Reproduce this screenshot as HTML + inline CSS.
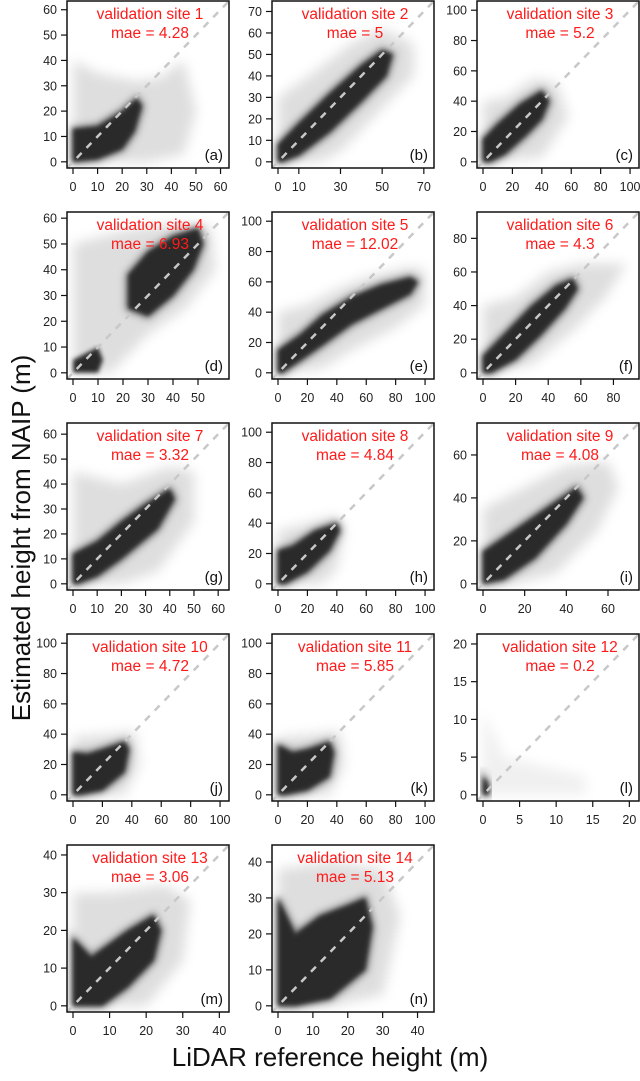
<!DOCTYPE html>
<html><head><meta charset="utf-8"><style>
html,body{margin:0;padding:0;background:#fff;}
svg text{font-family:"Liberation Sans",sans-serif;}
</style></head><body>
<svg id="fig" width="640" height="1076" viewBox="0 0 640 1076" xmlns="http://www.w3.org/2000/svg">
<defs>
<filter id="blurHalo" x="-50%" y="-50%" width="200%" height="200%"><feGaussianBlur stdDeviation="6"/></filter>
<filter id="blurMid" x="-50%" y="-50%" width="200%" height="200%"><feGaussianBlur stdDeviation="4"/></filter>
<filter id="blurCore" x="-50%" y="-50%" width="200%" height="200%"><feGaussianBlur stdDeviation="2.2"/></filter>
</defs>
<text transform="translate(30,538) rotate(-90)" text-anchor="middle" font-size="26" fill="#111">Estimated height from NAIP (m)</text>
<text x="330" y="1066" text-anchor="middle" font-size="26" fill="#111">LiDAR reference height (m)</text>
</svg>
<script>
const siteNames = ["validation site 1","validation site 2","validation site 3","validation site 4","validation site 5","validation site 6","validation site 7","validation site 8","validation site 9","validation site 10","validation site 11","validation site 12","validation site 13","validation site 14"];
const maeValues = ["4.28","5","5.2","6.93","12.02","4.3","3.32","4.84","4.08","4.72","5.85","0.2","3.06","5.13"];
const panelLetters = ["(a)","(b)","(c)","(d)","(e)","(f)","(g)","(h)","(i)","(j)","(k)","(l)","(m)","(n)"];
const axisRanges = [61,72,102,60,102,92,62,102,72,102,102,20.5,41,43];
const xTicks = [[0,10,20,30,40,50,60],[0,10,30,50,70],[0,20,40,60,80,100],[0,10,20,30,40,50],[0,20,40,60,80,100],[0,20,40,60,80],[0,10,20,30,40,50,60],[0,20,40,60,80,100],[0,20,40,60],[0,20,40,60,80,100],[0,20,40,60,80,100],[0,5,10,15,20],[0,10,20,30,40],[0,10,20,30,40]];
const yTicks = [[0,10,20,30,40,50,60],[0,10,20,30,40,50,60,70],[0,20,40,60,80,100],[0,10,20,30,40,50,60],[0,20,40,60,80,100],[0,20,40,60,80],[0,10,20,30,40,50,60],[0,20,40,60,80,100],[0,20,40,60],[0,20,40,60,80,100],[0,20,40,60,80,100],[0,5,10,15,20],[0,10,20,30,40],[0,10,20,30,40]];
const haloShapes = [
[[0,40],[10,35],[25,32],[35,33],[45,40],[50,20],[45,3],[30,0],[0,0]],
[[0,30],[15,40],[35,55],[50,62],[65,55],[65,40],[50,25],[30,5],[20,0],[0,0]],
[[0,40],[15,42],[35,55],[50,52],[58,30],[40,3],[0,0]],
[[0,50],[20,55],[40,58],[55,57],[57,40],[45,25],[30,15],[15,0],[0,0]],
[[0,40],[20,45],[40,55],[60,63],[90,70],[100,68],[100,45],[80,30],[50,15],[30,3],[0,0]],
[[0,40],[20,45],[40,60],[60,65],[88,65],[75,45],[55,25],[30,5],[0,0]],
[[0,45],[20,40],[40,47],[50,45],[50,25],[35,5],[20,0],[0,0]],
[[0,35],[20,40],[40,45],[45,35],[40,10],[30,0],[0,0]],
[[0,35],[20,45],[40,55],[60,57],[65,45],[55,25],[35,5],[15,0],[0,0]],
[[0,38],[25,40],[42,42],[45,20],[35,0],[0,0]],
[[0,38],[25,40],[42,42],[45,20],[35,0],[0,0]],
[[0,11],[3,5],[14,2.5],[14,0],[0,0]],
[[0,30],[10,30],[25,32],[32,28],[30,12],[20,0],[0,0]],
[[0,38],[15,40],[30,38],[35,25],[30,3],[15,0],[0,0]]];
const coreShapes = [
[[0,0],[0,13],[10,14],[20,20],[26,25],[28,22],[25,12],[20,5],[10,1]],
[[0,0],[0,8],[10,18],[25,32],[40,45],[50,52],[55,50],[52,40],[40,28],[25,14],[10,3],[2,0]],
[[0,0],[0,15],[10,25],[25,38],[40,47],[45,40],[40,28],[30,18],[15,5],[5,0]],
[[22,25],[22,38],[30,47],[40,53],[50,56],[52,50],[48,40],[40,30],[30,22]],
[[0,0],[0,15],[15,25],[30,38],[50,50],[70,58],[90,63],[95,60],[90,52],[70,42],[50,32],[30,18],[15,8],[3,0]],
[[0,0],[0,10],[15,25],[30,40],[45,52],[55,56],[58,50],[50,38],[35,22],[20,8],[5,0]],
[[0,0],[0,12],[10,17],[20,25],[30,32],[40,38],[42,34],[35,22],[20,10],[10,3],[2,0]],
[[0,0],[0,22],[10,25],[25,35],[40,40],[42,35],[35,22],[20,8],[5,0]],
[[0,0],[0,15],[15,25],[30,35],[45,45],[48,40],[40,28],[25,12],[10,2]],
[[0,0],[0,28],[10,27],[20,30],[35,35],[38,30],[35,15],[20,3],[5,0]],
[[0,0],[0,33],[10,28],[20,30],[35,35],[38,28],[35,12],[20,3],[5,0]],
[[0,0],[0,2.5],[0.7,1.5],[0.8,0]],
[[0,0],[0,18],[5,13],[15,20],[22,24],[24,20],[22,12],[15,5],[8,0]],
[[0,0],[0,30],[5,20],[12,25],[20,28],[25,30],[27,22],[25,10],[15,2],[5,0]]];
const extraCore = {3:[[0,0],[0,5],[10,10],[12,5],[10,0]]};

const NS="http://www.w3.org/2000/svg";
const svg=document.getElementById('fig');
const colX=[67,272,477], rowY=[1,212,423,634,845], W=162, H=167;
function mk(t,a,p){const e=document.createElementNS(NS,t);for(const k in a)e.setAttribute(k,a[k]);(p||svg).appendChild(e);return e;}

siteNames.forEach((name,i)=>{
  const bx=colX[i%3], by=rowY[Math.floor(i/3)], r=axisRanges[i];
  const lo=-0.04*r, hi=1.04*r;
  const sx=v=>bx+(v-lo)/(hi-lo)*W;
  const sy=v=>by+H-(v-lo)/(hi-lo)*H;
  const g=mk('g',{});
  
  
  const cp=mk('clipPath',{id:'cp'+i},g);
  mk('rect',{x:bx,y:by,width:W,height:H},cp);
  const plot=mk('g',{'clip-path':'url(#cp'+i+')'},g);
  const pts=a=>a.map(p=>sx(p[0]).toFixed(1)+','+sy(p[1]).toFixed(1)).join(' ');
  const halo=mk('polygon',{points:pts(haloShapes[i]),fill:'#000','fill-opacity':i==11?0.06:0.13,filter:'url(#blurHalo)'},plot);
  
  
  const mid=mk('polygon',{points:pts(coreShapes[i]),fill:'#000','fill-opacity':0.4,filter:'url(#blurMid)',stroke:'#000','stroke-opacity':0.3,'stroke-width':6},plot);
  
  
  const core=mk('polygon',{points:pts(coreShapes[i]),fill:'#2a2a2a',filter:'url(#blurCore)'},plot);
  
  
  if(extraCore[i]){
    const c2=mk('polygon',{points:pts(extraCore[i]),fill:'#2a2a2a',filter:'url(#blurCore)'},plot);
    
    
  }
  const ln=mk('line',{x1:sx(lo),y1:sy(lo),x2:sx(hi),y2:sy(hi),stroke:'#c8c8c8','stroke-width':2.5,'stroke-dasharray':'7,7'},plot);
  
  
  const box=mk('rect',{x:bx,y:by,width:W,height:H,fill:'none',stroke:'#111','stroke-width':1.5},g);
  
  
  xTicks[i].forEach(v=>{
    mk('line',{x1:sx(v),y1:by+H,x2:sx(v),y2:by+H+6,stroke:'#111','stroke-width':1.2},g);
    const t=mk('text',{x:sx(v),y:by+H+23,'text-anchor':'middle','font-size':12.5,fill:'#222'},g);
    t.textContent=v;
    
    
  });
  yTicks[i].forEach(v=>{
    mk('line',{x1:bx-6,y1:sy(v),x2:bx,y2:sy(v),stroke:'#111','stroke-width':1.2},g);
    const t=mk('text',{x:bx-10,y:sy(v)+4.5,'text-anchor':'end','font-size':12.5,fill:'#222'},g);
    t.textContent=v;
    
    
  });
  const t1=mk('text',{x:bx+W/2+2,y:by+18,'text-anchor':'middle','font-size':15.5,fill:'#ff1a1a'},g);
  t1.textContent=name;
  
  
  const t2=mk('text',{x:bx+W/2+2,y:by+37,'text-anchor':'middle','font-size':15.5,fill:'#ff1a1a'},g);
  t2.textContent='mae = '+maeValues[i];
  
  
  const t3=mk('text',{x:bx+W-6,y:by+H-8,'text-anchor':'end','font-size':15,fill:'#111'},g);
  t3.textContent=panelLetters[i];
  
  
});
</script>
</body></html>
